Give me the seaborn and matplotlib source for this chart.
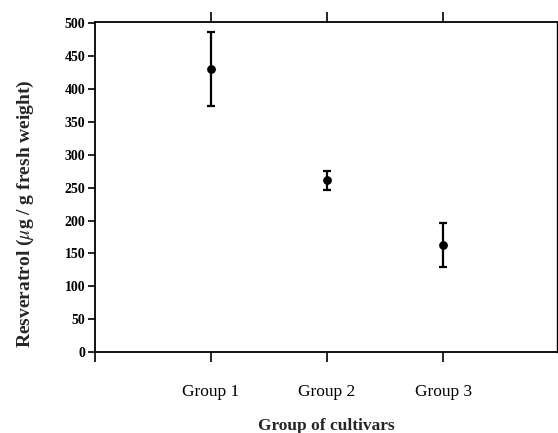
import numpy as np
import pandas as pd
import matplotlib
matplotlib.use("Agg")
import matplotlib.pyplot as plt
import seaborn as sns

# --- Data ---
groups = ["Group 1", "Group 2", "Group 3"]
positions = [1, 2, 3]
resveratrol = [431, 261, 163]
errors = [56, 14, 34]

df = pd.DataFrame({"pos": positions, "group": groups,
                   "value": resveratrol, "err": errors})

sns.set_theme(style="ticks")
plt.rcParams["font.family"] = ["Liberation Serif", "DejaVu Serif"]
plt.rcParams["mathtext.fontset"] = "stix"

fig = plt.figure(figsize=(5.58, 4.33), dpi=100)
ax = fig.add_axes([0.170, 0.187, 0.828, 0.762])

ax.errorbar(df["pos"], df["value"], yerr=df["err"], fmt="none",
            ecolor="black", elinewidth=1.6, capsize=3, capthick=1.6, zorder=2)
sns.scatterplot(data=df, x="pos", y="value", ax=ax, color="black",
                s=40, edgecolor="black", linewidth=0, zorder=3, legend=False)

ax.set_xlim(0, 3.98)
ax.set_ylim(0, 502)

ax.set_yticks(np.arange(0, 501, 50))
ax.tick_params(axis="y", direction="out", length=5, width=1.2,
               labelsize=10, pad=2, colors="black")
for lbl in ax.get_yticklabels():
    lbl.set_fontweight("bold")

ax.set_xticks([0] + positions)
ax.set_xticklabels([""] + groups, fontsize=12.5)
ax.xaxis.set_ticks_position("both")
ax.tick_params(axis="x", direction="out", length=7, width=1.2, pad=16,
               colors="black")
ax.xaxis.get_major_ticks()[0].tick2line.set_visible(False)

for side in ["left", "bottom", "top", "right"]:
    ax.spines[side].set_color("black")
    ax.spines[side].set_linewidth(1.3)
ax.spines["right"].set_linewidth(1.0)

ax.set_xlabel("Group of cultivars", fontsize=12.5, fontweight="bold",
              labelpad=13)
ax.set_ylabel(r"Resveratrol ($\mu$g / g fresh weight)", fontsize=14,
              fontweight="bold")
ax.yaxis.set_label_coords(-0.128, 0.418)

fig.savefig("out.png", dpi=100)
